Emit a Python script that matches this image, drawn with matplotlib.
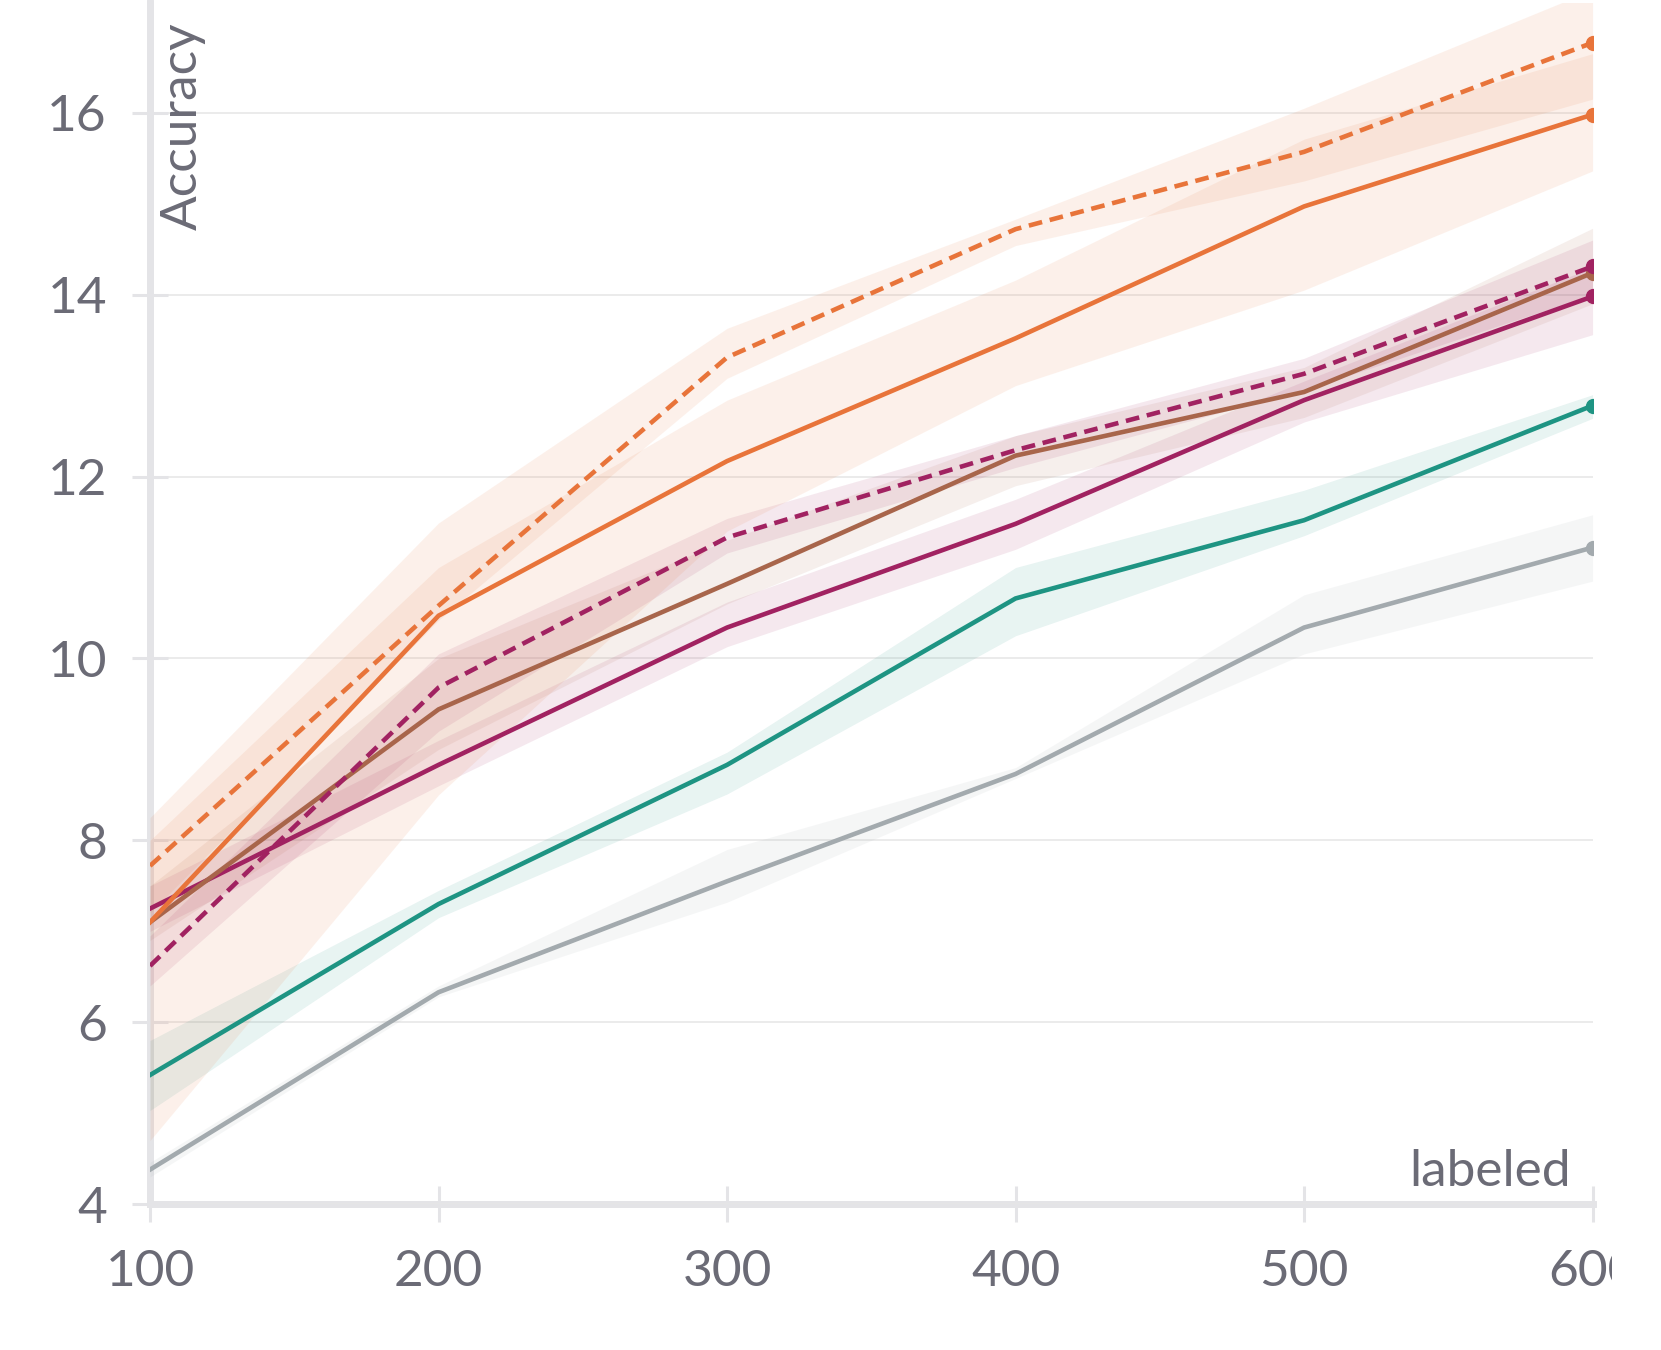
import matplotlib
matplotlib.use("Agg")
import matplotlib.pyplot as plt
from matplotlib.patches import Rectangle

# Datos
labeled = [100, 200, 300, 400, 500, 600]

orange_dash = [7.72, 10.58, 13.31, 14.72, 15.57, 16.77]
orange_dash_lo = [7.2, 10.42, 13.08, 14.54, 15.25, 16.15]
orange_dash_hi = [8.25, 11.49, 13.63, 14.83, 16.05, 17.35]

orange = [7.1, 10.47, 12.17, 13.52, 14.97, 15.98]
orange_lo = [4.7, 8.5, 11.4, 13.0, 14.05, 15.36]
orange_hi = [8.0, 11.0, 12.84, 14.16, 15.71, 16.65]

magenta_dash = [6.62, 9.68, 11.33, 12.29, 13.13, 14.31]
magenta_dash_lo = [6.4, 9.2, 11.16, 12.1, 12.95, 14.0]
magenta_dash_hi = [6.95, 10.05, 11.54, 12.45, 13.3, 14.6]

brown = [7.1, 9.44, 10.82, 12.23, 12.93, 14.24]
brown_lo = [6.9, 9.0, 10.6, 11.9, 12.65, 13.9]
brown_hi = [7.5, 10.0, 11.3, 12.45, 13.2, 14.73]

magenta = [7.25, 8.83, 10.34, 11.48, 12.84, 13.98]
magenta_lo = [7.0, 8.6, 10.13, 11.2, 12.6, 13.56]
magenta_hi = [7.5, 9.1, 10.62, 11.75, 13.05, 14.3]

teal = [5.42, 7.3, 8.83, 10.66, 11.52, 12.78]
teal_lo = [5.03, 7.15, 8.51, 10.25, 11.35, 12.64]
teal_hi = [5.8, 7.45, 8.97, 11.0, 11.85, 12.9]

gray = [4.38, 6.33, 7.55, 8.73, 10.34, 11.22]
gray_lo = [4.3, 6.28, 7.32, 8.68, 10.05, 10.85]
gray_hi = [4.46, 6.4, 7.9, 8.8, 10.7, 11.58]

C_ORANGE = "#e8743a"
C_BROWN = "#a8654b"
C_MAGENTA = "#a12261"
C_TEAL = "#1e9483"
C_GRAY = "#a3aaae"
C_TEXT = "#6b6b76"
C_AXIS = "#e4e4e7"

plt.rcParams['font.family'] = ['Lato', 'DejaVu Sans']

fig = plt.figure(figsize=(16.61, 13.5), dpi=100)
ax = fig.add_axes([0.0903, 0.108, 0.8685, 0.89])

series = [
    (gray, gray_lo, gray_hi, C_GRAY, '-'),
    (teal, teal_lo, teal_hi, C_TEAL, '-'),
    (magenta, magenta_lo, magenta_hi, C_MAGENTA, '-'),
    (brown, brown_lo, brown_hi, C_BROWN, '-'),
    (magenta_dash, magenta_dash_lo, magenta_dash_hi, C_MAGENTA, '--'),
    (orange, orange_lo, orange_hi, C_ORANGE, '-'),
    (orange_dash, orange_dash_lo, orange_dash_hi, C_ORANGE, '--'),
]

for vals, lo, hi, col, ls in series:
    ax.fill_between(labeled, lo, hi, color=col, alpha=0.1, linewidth=0)
    estilo = (0, (3.0, 1.7)) if ls == '--' else '-'
    ax.plot(labeled, vals, color=col, linewidth=3.3, linestyle=estilo,
            solid_joinstyle='miter')
    ax.plot(labeled[-1:], vals[-1:], 'o', color=col, markersize=10)

ax.set_xlim(100, 600)
ax.set_ylim(4, 17.21)
ax.set_xticks(labeled)
ax.set_yticks([4, 6, 8, 10, 12, 14, 16])

ax.grid(axis='y', color='#e6e6e6', linewidth=1.1)
ax.set_axisbelow(True)
for lado in ['top', 'right']:
    ax.spines[lado].set_visible(False)
for lado in ['left', 'bottom']:
    ax.spines[lado].set_color(C_AXIS)
    ax.spines[lado].set_linewidth(5)
    ax.spines[lado].set_zorder(0.5)

ax.tick_params(axis='both', direction='inout', length=26, width=2.2,
               color=C_AXIS, labelcolor=C_TEXT, labelsize=37)
ax.tick_params(axis='x', pad=19)
ax.tick_params(axis='y', pad=18)

ax.text(0.007, 0.984, "Accuracy", transform=ax.transAxes, rotation=90,
        ha='left', va='top', fontsize=37, color=C_TEXT)
ax.text(0.9848, 0.015, "labeled", transform=ax.transAxes,
        ha='right', va='baseline', fontsize=37, color=C_TEXT)

# recorte de la etiqueta 600 como en el original
fig.patches.append(Rectangle((0.9705, 0), 0.03, 0.1, transform=fig.transFigure,
                             facecolor='white', edgecolor='none', zorder=10))

fig.savefig("out.png", dpi=100)
